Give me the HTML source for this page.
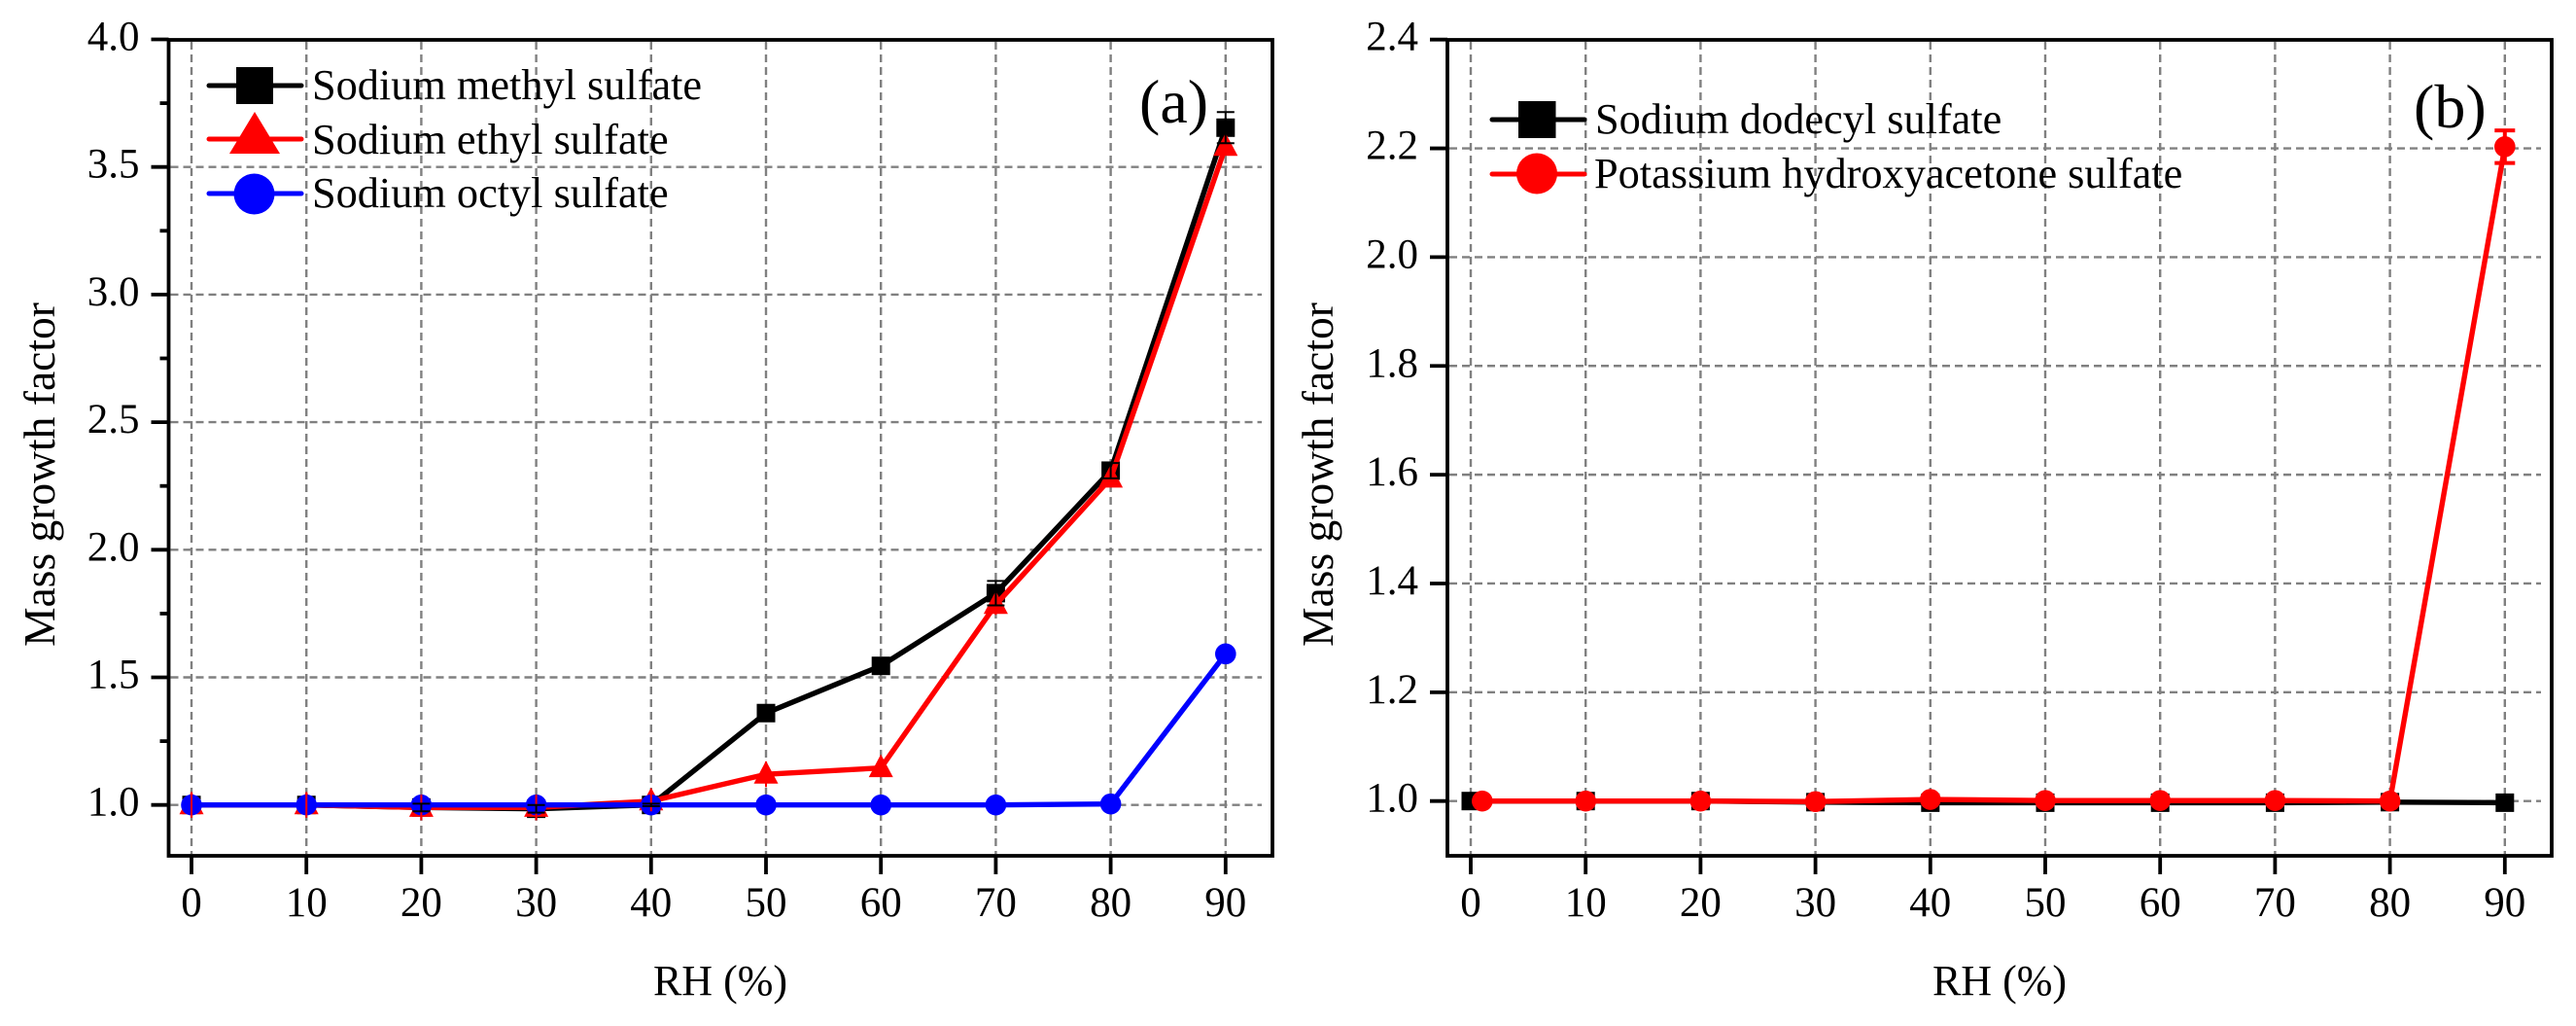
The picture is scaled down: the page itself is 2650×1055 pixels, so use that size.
<!DOCTYPE html>
<html>
<head>
<meta charset="utf-8">
<title>Mass growth factor vs RH</title>
<style>
html,body{margin:0;padding:0;background:#fff;width:2650px;height:1055px;overflow:hidden}
svg{display:block}
text{font-family:"Liberation Serif",serif;fill:#000}
</style>
</head>
<body>
<svg id="figure" xmlns="http://www.w3.org/2000/svg" width="2650" height="1055" viewBox="0 0 2650 1055">
  <rect width="2650" height="1055" fill="#fff"/>
  <g id="panel-a"></g>
  <g id="panel-b"></g>

  <g>
    <line x1="215" y1="88" x2="310" y2="88" stroke="#000" stroke-width="5" stroke-linecap="round"/>
    <rect x="243" y="69" width="38" height="38" fill="#000"/>
    <text x="321" y="102" font-size="44.3">Sodium methyl sulfate</text>
    <line x1="215" y1="143" x2="310" y2="143" stroke="#f00" stroke-width="5" stroke-linecap="round"/>
    <polygon points="262,115 288,158 236,158" fill="#f00"/>
    <text x="321" y="158" font-size="44.3">Sodium ethyl sulfate</text>
    <line x1="215" y1="199" x2="310" y2="199" stroke="#00f" stroke-width="5" stroke-linecap="round"/>
    <circle cx="261.500" cy="199.500" r="21" fill="#00f"/>
    <text x="321" y="213" font-size="44.3">Sodium octyl sulfate</text>
  </g>
  <text x="1172" y="126" font-size="64">(a)</text>

  <g>
    <line x1="1535" y1="123" x2="1630" y2="123" stroke="#000" stroke-width="5" stroke-linecap="round"/>
    <rect x="1562" y="104" width="38.500" height="38" fill="#000"/>
    <text x="1641" y="137" font-size="44.3">Sodium dodecyl sulfate</text>
    <line x1="1535" y1="179" x2="1630" y2="179" stroke="#f00" stroke-width="5" stroke-linecap="round"/>
    <circle cx="1581" cy="178.500" r="21" fill="#f00"/>
    <text x="1640" y="193" font-size="44.3">Potassium hydroxyacetone sulfate</text>
  </g>
  <text x="2483" y="131" font-size="64">(b)</text>
</svg>
<script>
// ---- Panel (a) data ----
const rhA = [0, 10, 20, 30, 40, 50, 60, 70, 80, 90];
const methylValues = [1.0, 1.0, 0.99, 0.985, 1.0, 1.36, 1.545, 1.83, 2.31, 3.654];
const methylErrors = [0, 0, 0.015, 0.015, 0.005, 0.015, 0.015, 0.048, 0.03, 0.061];
const ethylValues = [1.0, 1.0, 0.99, 0.99, 1.015, 1.12, 1.145, 1.785, 2.28, 3.58];
const ethylErrors = [0.05, 0.05, 0.05, 0.05, 0.04, 0.05, 0.03, 0.04, 0.03, 0.03];
const octylValues = [1.0, 1.0, 1.0, 1.0, 1.0, 1.0, 1.0, 1.0, 1.004, 1.592];
const octylErrors = [0, 0, 0, 0, 0, 0, 0, 0, 0, 0];
const yTicksA = ['1.0', '1.5', '2.0', '2.5', '3.0', '3.5', '4.0'];
const yMinorTicksA = [1.25, 1.75, 2.25, 2.75, 3.25, 3.75];

// ---- Panel (b) data ----
const rhDodecyl = [0, 10, 20, 30, 40, 50, 60, 70, 80, 90];
const dodecylValues = [1.0, 1.0, 1.0, 0.998, 0.997, 0.997, 0.997, 0.997, 0.998, 0.997];
const dodecylErrors = [0, 0, 0, 0, 0, 0, 0, 0, 0, 0];
const rhHydroxy = [1, 10, 20, 30, 40, 50, 60, 70, 80, 90];
const hydroxyValues = [1.0, 1.0, 1.0, 0.999, 1.003, 1.001, 1.001, 1.001, 1.0, 2.203];
const hydroxyErrors = [0, 0, 0, 0, 0, 0, 0, 0, 0, 0.03];
const yTicksB = ['1.0', '1.2', '1.4', '1.6', '1.8', '2.0', '2.2', '2.4'];
const yMinorTicksB = [];

const xTickLabels = ['0', '10', '20', '30', '40', '50', '60', '70', '80', '90'];

const SVG_NS = 'http://www.w3.org/2000/svg';
function mk(tag, attrs, parent) {
  const el = document.createElementNS(SVG_NS, tag);
  for (const k in attrs) el.setAttribute(k, attrs[k]);
  parent.appendChild(el);
  return el;
}

function drawFrame(g, opt) {
  const xS = opt.xS, yS = opt.yS;
  // Grid
  xTickLabels.forEach(function (t) {
    const x = xS(+t);
    const el = mk('line', {x1: x, x2: x, y1: opt.top + 2, y2: opt.bottom - 2, stroke: '#808080', 'stroke-width': 2.4, 'stroke-dasharray': '8 5'}, g);
    
    
  });
  opt.yTicks.forEach(function (t) {
    const y = yS(parseFloat(t));
    if (y <= opt.top + 3) return;
    const el = mk('line', {x1: opt.left + 2, x2: opt.gridEnd, y1: y, y2: y, stroke: '#808080', 'stroke-width': 2.4, 'stroke-dasharray': '8 5'}, g);
    
    
  });
  // Frame
  const frame = mk('rect', {x: opt.left, y: opt.top, width: opt.right - opt.left, height: opt.bottom - opt.top, fill: 'none', stroke: '#000', 'stroke-width': 3.8}, g);
  
  
  // X ticks and labels
  xTickLabels.forEach(function (t) {
    const x = xS(+t);
    const tick = mk('line', {x1: x, x2: x, y1: opt.bottom, y2: opt.bottom + 19, stroke: '#000', 'stroke-width': 3.8}, g);
    
    
    const lab = mk('text', {x: x, y: 942, 'font-size': 43, 'text-anchor': 'middle'}, g);
    lab.textContent = t;
    
    
  });
  // Y ticks and labels
  opt.yTicks.forEach(function (t) {
    const y = yS(parseFloat(t));
    const tick = mk('line', {x1: opt.left - 18, x2: opt.left, y1: y, y2: y, stroke: '#000', 'stroke-width': 3.8}, g);
    
    
    const lab = mk('text', {x: opt.left - 30, y: y + 11, 'font-size': 43, 'text-anchor': 'end'}, g);
    lab.textContent = t;
    
    
  });
  opt.yMinor.forEach(function (v) {
    const y = yS(v);
    const tick = mk('line', {x1: opt.left - 9, x2: opt.left, y1: y, y2: y, stroke: '#000', 'stroke-width': 3.8}, g);
    
    
  });
  // Titles
  const xt = mk('text', {x: opt.xTitleX, y: 1023, 'font-size': 44, 'text-anchor': 'middle'}, g);
  xt.textContent = 'RH (%)';
  
  
  const yt = mk('text', {x: 0, y: 0, 'font-size': 45.5, 'text-anchor': 'middle', transform: 'translate(' + opt.yTitleX + ',488) rotate(-90)'}, g);
  yt.textContent = 'Mass growth factor';
  
  
}

function drawSeries(g, s, xS, yS) {
  const pts = s.ys.map(function (v, i) { return xS(s.xs[i]) + ',' + yS(v); }).join(' ');
  const line = mk('polyline', {points: pts, fill: 'none', stroke: s.color, 'stroke-width': 5.4, 'stroke-linejoin': 'round'}, g);
  
  
  s.ys.forEach(function (v, i) {
    const x = xS(s.xs[i]), y = yS(v);
    let m;
    if (s.shape === 'square') {
      m = mk('rect', {x: x - 9.5, y: y - 9.5, width: 19, height: 19, fill: s.color}, g);
    } else if (s.shape === 'triangle') {
      m = mk('polygon', {points: x + ',' + (y - 14) + ' ' + (x + 12.5) + ',' + (y + 9.5) + ' ' + (x - 12.5) + ',' + (y + 9.5), fill: s.color}, g);
    } else {
      m = mk('circle', {cx: x, cy: y, r: 10.8, fill: s.color}, g);
    }
    
    
  });
}

function drawErrors(g, s, xS, yS) {
  s.ys.forEach(function (v, i) {
    const e = s.errs[i];
    if (!(e > 0)) return;
    const x = xS(s.xs[i]), y1 = yS(v + e), y2 = yS(v - e);
    const w = s.errWidth, h = s.capHalf;
    const d = 'M' + x + ' ' + y1 + 'V' + y2 + 'M' + (x - h) + ' ' + y1 + 'H' + (x + h) + 'M' + (x - h) + ' ' + y2 + 'H' + (x + h);
    const p = mk('path', {d: d, fill: 'none', stroke: s.color, 'stroke-width': w}, g);
    
    
  });
}

// Axis functions
const xA = function (v) { return 197 + v * 11.82; };
const yA = function (v) { return 827.7 - (v - 1) * 262.4; };
const xB = function (v) { return 1513 + v * 11.82; };
const yB = function (v) { return 823.7 - (v - 1) * 559.3; };

const gA = document.getElementById('panel-a');
drawFrame(gA, {xS: xA, yS: yA, left: 173.5, right: 1309, top: 41, bottom: 880, gridEnd: 1298, yTicks: yTicksA, yMinor: yMinorTicksA, xTitleX: 741, yTitleX: 56});
const seriesA = [
  {name: 'sodium-methyl-sulfate', xs: rhA, ys: methylValues, errs: methylErrors, color: '#000', shape: 'square', errWidth: 2, capHalf: 9},
  {name: 'sodium-ethyl-sulfate', xs: rhA, ys: ethylValues, errs: ethylErrors, color: '#f00', shape: 'triangle', errWidth: 2, capHalf: 0},
  {name: 'sodium-octyl-sulfate', xs: rhA, ys: octylValues, errs: octylErrors, color: '#00f', shape: 'circle', errWidth: 2, capHalf: 9}
];
seriesA.forEach(function (s) { drawSeries(gA, s, xA, yA); });
[seriesA[2], seriesA[1], seriesA[0]].forEach(function (s) { drawErrors(gA, s, xA, yA); });

const gB = document.getElementById('panel-b');
drawFrame(gB, {xS: xB, yS: yB, left: 1489, right: 2625, top: 41, bottom: 880, gridEnd: 2614, yTicks: yTicksB, yMinor: yMinorTicksB, xTitleX: 2057, yTitleX: 1371});
const seriesB = [
  {name: 'sodium-dodecyl-sulfate', xs: rhDodecyl, ys: dodecylValues, errs: dodecylErrors, color: '#000', shape: 'square', errWidth: 3, capHalf: 10},
  {name: 'potassium-hydroxyacetone-sulfate', xs: rhHydroxy, ys: hydroxyValues, errs: hydroxyErrors, color: '#f00', shape: 'circle', errWidth: 4, capHalf: 10.5}
];
seriesB.forEach(function (s) { drawSeries(gB, s, xB, yB); });
seriesB.forEach(function (s) { drawErrors(gB, s, xB, yB); });
</script>
</body>
</html>
